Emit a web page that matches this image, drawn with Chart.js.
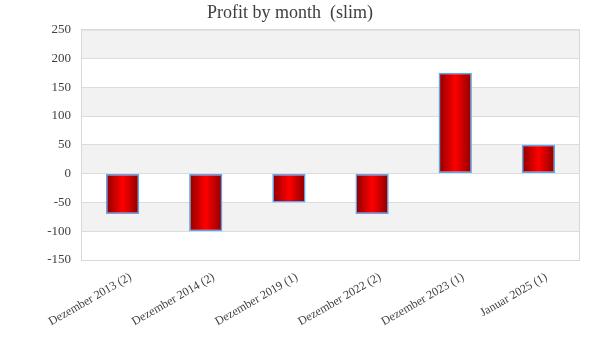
<!DOCTYPE html>
<html>
<head>
<meta charset="utf-8">
<script src="https://cdn.jsdelivr.net/npm/chart.js@4.4.1/dist/chart.umd.min.js"></script>
<style>
  html, body { margin: 0; padding: 0; background: #fff; }
  #wrap { width: 600px; height: 360px; }
</style>
</head>
<body>
<div id="wrap"><canvas id="chart"></canvas></div>
<script>
const categories = ['Dezember 2013 (2)', 'Dezember 2014 (2)', 'Dezember 2019 (1)', 'Dezember 2022 (2)', 'Dezember 2023 (1)', 'Januar 2025 (1)'];
const profit = [-70, -100, -50, -70, 175, 50];
const yTicks = [250, 200, 150, 100, 50, 0, -50, -100, -150];

const fontFamily = '"Liberation Serif", "DejaVu Serif", serif';
const textColor = '#404040';
const barFraction = 0.4;

// grey/white stripes behind the bars + frame around the plot
const bandsPlugin = {
    id: 'bands',
    beforeDraw(chart) {
        const { ctx, chartArea: a, scales: { y } } = chart;
        ctx.save();
        for (let i = 0; i < yTicks.length - 1; i++) {
            if (i % 2 !== 0) continue;
            const top = y.getPixelForValue(yTicks[i]);
            const bottom = y.getPixelForValue(yTicks[i + 1]);
            ctx.fillStyle = '#f2f2f2';
            ctx.fillRect(a.left, top, a.right - a.left, bottom - top);
        }
        ctx.restore();
    },
    afterDraw(chart) {
        const { ctx, chartArea: a } = chart;
        ctx.save();
        ctx.strokeStyle = '#d9d9d9';
        ctx.lineWidth = 1;
        ctx.strokeRect(a.left + 0.5, a.top + 0.5, a.right - a.left - 1, a.bottom - a.top);
        ctx.restore();
    }
};

const barGradient = (c) => {
    const chart = c.chart;
    const x = chart.scales.x;
    if (!chart.chartArea || !x || c.dataIndex === undefined) return '#e00000';
    const cx = x.getPixelForValue(c.dataIndex);
    const w = (x.width / categories.length) * barFraction;
    const g = chart.ctx.createLinearGradient(cx - w / 2, 0, cx + w / 2, 0);
    g.addColorStop(0, '#8b0000');
    g.addColorStop(0.5, '#ff0000');
    g.addColorStop(1, '#8b0000');
    return g;
};

new Chart(document.getElementById('chart'), {
    type: 'bar',
    data: {
        labels: categories,
        datasets: [{
            label: 'Profit',
            data: profit,
            backgroundColor: barGradient,
            borderColor: '#55a8f5',
            borderWidth: 1.5,
            borderSkipped: false,
            barPercentage: barFraction,
            categoryPercentage: 1
        }]
    },
    options: {
        responsive: true,
        maintainAspectRatio: false,
        animation: false,
        layout: { padding: { top: 2, right: 20, bottom: 0, left: 0 } },
        plugins: {
            legend: { display: false },
            tooltip: { enabled: false },
            title: {
                display: true,
                text: 'Profit by month  (slim)',
                color: textColor,
                font: { family: fontFamily, size: 18, weight: 'normal' },
                padding: { top: 0, bottom: 6 }
            }
        },
        scales: {
            x: {
                grid: { display: false },
                border: { display: false },
                ticks: {
                    color: textColor,
                    font: { family: fontFamily, size: 12 },
                    minRotation: 30,
                    maxRotation: 30,
                    autoSkip: false,
                    labelOffset: 8,
                    padding: 2
                },
                afterFit(scale) { scale.height = 100; }
            },
            y: {
                min: -150,
                max: 250,
                grid: { color: '#dcdcdc', drawTicks: false },
                border: { display: false },
                ticks: {
                    stepSize: 50,
                    color: textColor,
                    font: { family: fontFamily, size: 13 },
                    padding: 10
                },
                afterFit(scale) { scale.width = 81; }
            }
        }
    },
    plugins: [bandsPlugin]
});
</script>
</body>
</html>
